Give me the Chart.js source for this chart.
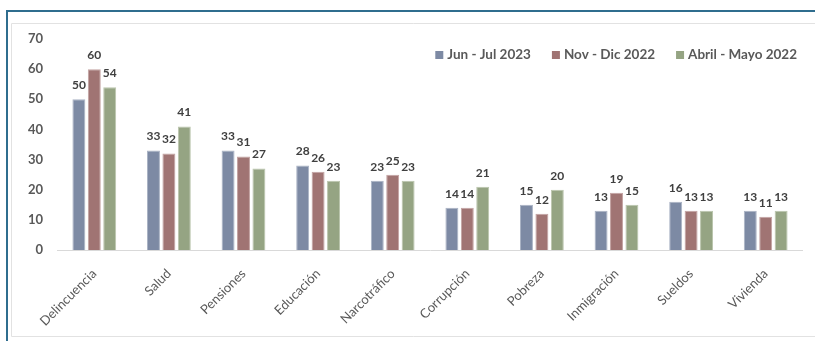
<!DOCTYPE html>
<html>
<head>
<meta charset="utf-8">
<script src="https://cdn.jsdelivr.net/npm/chart.js@4"></script>
<style>
    html, body { margin: 0; width: 815px; height: 341px; background: #ffffff; overflow: hidden; }
    #issuesChart { position: absolute; left: 0; top: 0; display: block; }
    /* right edge strip keeps the frame lines running out of the window */
    .edge { position: absolute; left: 803px; top: 0; width: 12px; height: 341px; background: #ffffff; z-index: 2; }
    .edge .blue { position: absolute; left: 0; top: 10px; width: 12px; height: 2px; background: #2f6d8e; }
    .edge .grey { position: absolute; left: 0; width: 12px; height: 1px; background: #e2e2e2; }
</style>
</head>
<body>
<canvas id="issuesChart" width="815" height="341"></canvas>
<div class="edge">
    <div class="blue"></div>
    <div class="grey" style="top: 23px"></div>
    <div class="grey" style="top: 336px"></div>
</div>
<script>
const categories = ['Delincuencia', 'Salud', 'Pensiones', 'Educación', 'Narcotráfico',
    'Corrupción', 'Pobreza', 'Inmigración', 'Sueldos', 'Vivienda'];
const seriesLabels = ['Jun - Jul 2023', 'Nov - Dic 2022', 'Abril - Mayo 2022'];
const junJul2023 = [50, 33, 33, 28, 23, 14, 15, 13, 16, 13];
const novDic2022 = [60, 32, 31, 26, 25, 14, 12, 19, 13, 11];
const abrMay2022 = [54, 41, 27, 23, 23, 21, 20, 15, 13, 13];
const yTicks = [0, 10, 20, 30, 40, 50, 60, 70];

const fillColors = ['#7d8aa4', '#a07473', '#95a483'];
const edgeColors = ['#aab3c4', '#c3a3a2', '#bac5ad'];
const FONT = 'Lato, "Open Sans", sans-serif';

// blue frame (left + top) and light grey panel behind the chart
const framePanel = {
    id: 'framePanel',
    beforeDraw(chart) {
        const ctx = chart.ctx;
        ctx.save();
        ctx.fillStyle = '#2f6d8e';
        ctx.fillRect(6, 10, 2, chart.height - 10);
        ctx.fillRect(6, 10, chart.width - 6, 2);
        ctx.strokeStyle = '#e2e2e2';
        ctx.lineWidth = 1;
        ctx.beginPath();
        ctx.moveTo(chart.width, 23.5);
        ctx.lineTo(11.5, 23.5);
        ctx.lineTo(11.5, 336.5);
        ctx.lineTo(chart.width, 336.5);
        ctx.stroke();
        ctx.restore();
    }
};

// value labels above every bar
const valueLabels = {
    id: 'valueLabels',
    afterDatasetsDraw(chart) {
        const ctx = chart.ctx;
        ctx.save();
        ctx.font = 'bold 12px ' + FONT;
        ctx.fillStyle = '#404040';
        ctx.textAlign = 'center';
        ctx.textBaseline = 'middle';
        chart.data.datasets.forEach((ds, i) => {
            chart.getDatasetMeta(i).data.forEach((bar, j) => {
                ctx.fillText(ds.data[j], bar.x, bar.y - 14);
            });
        });
        ctx.restore();
    }
};

// legend row drawn inside the plot, top right
const topLegend = {
    id: 'topLegend',
    afterDraw(chart) {
        const ctx = chart.ctx;
        ctx.save();
        ctx.font = 'bold 13.5px ' + FONT;
        ctx.textBaseline = 'middle';
        ctx.textAlign = 'left';
        const y = 55, box = 8, gapText = 4, gapItem = 21;
        let x = 797;
        const items = chart.data.datasets.map(ds => ({
            label: ds.label, color: ds.backgroundColor, w: ctx.measureText(ds.label).width
        }));
        for (let k = items.length - 1; k >= 0; k--) {
            const it = items[k];
            x -= it.w;
            ctx.fillStyle = '#595959';
            ctx.fillText(it.label, x, y);
            x -= gapText + box;
            ctx.fillStyle = it.color;
            ctx.fillRect(x, y - box / 2, box, box);
            x -= gapItem;
        }
        ctx.restore();
    }
};

const ctx = document.getElementById('issuesChart').getContext('2d');
const seriesData = [junJul2023, novDic2022, abrMay2022];

new Chart(ctx, {
    type: 'bar',
    data: {
        labels: categories,
        datasets: seriesData.map((vals, i) => ({
            label: seriesLabels[i],
            data: vals,
            backgroundColor: fillColors[i],
            borderColor: edgeColors[i],
            borderWidth: 1,
            categoryPercentage: 0.62,
            barPercentage: 0.84
        }))
    },
    options: {
        responsive: false,
        animation: false,
        devicePixelRatio: 1,
        layout: { padding: { top: 39, right: 12, bottom: 0, left: 0 } },
        plugins: {
            legend: { display: false },
            tooltip: { enabled: false }
        },
        scales: {
            x: {
                grid: { display: false },
                border: { display: true, color: '#d9d9d9', width: 1 },
                ticks: {
                    minRotation: 45,
                    maxRotation: 45,
                    padding: 8,
                    color: '#595959',
                    font: { family: FONT, size: 13 }
                },
                afterFit(scale) { scale.height = 91; }
            },
            y: {
                min: 0,
                max: yTicks[yTicks.length - 1],
                grid: { display: false, drawTicks: false },
                border: { display: false },
                afterBuildTicks(scale) { scale.ticks = yTicks.map(v => ({ value: v })); },
                ticks: {
                    padding: 14,
                    color: '#595959',
                    font: { family: FONT, size: 13, weight: 'bold' }
                },
                afterFit(scale) { scale.width = 57; }
            }
        }
    },
    plugins: [framePanel, valueLabels, topLegend]
});
</script>
</body>
</html>
